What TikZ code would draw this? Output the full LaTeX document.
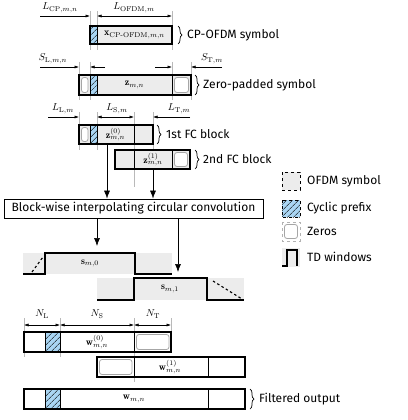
\documentclass[tikz,border=0pt]{standalone}
\usepackage{amsmath,amssymb}
\usepackage{fontspec}
\usepackage{xcolor}
\usetikzlibrary{arrows.meta,patterns.meta,decorations.pathreplacing}
\newfontfamily\dinfont{Fira Sans}
\definecolor{cpblue}{HTML}{A9D5F3}

\begin{document}
\begin{tikzpicture}[x=1pt,y=-1pt]
	\tikzstyle{blk}=[draw=black, line width=1.1pt]
	\tikzstyle{sym}=[fill=gray!15]
	\tikzstyle{cp}=[fill=cpblue, postaction={pattern={Lines[angle=45,distance=4pt,line width=0.6pt]}, pattern color=black}]
	\tikzstyle{cpedge}=[draw=black, line width=0.4pt]
	\tikzstyle{zero}=[draw=gray!70, fill=white, line width=0.8pt, rounded corners=2.5pt]
	\tikzstyle{ext}=[draw=gray!55, line width=0.4pt]
	\tikzstyle{dim}=[line width=0.5pt, -{Latex[length=4.5pt,width=3pt]}]
	\tikzstyle{dimboth}=[line width=0.5pt, {Latex[length=4.5pt,width=3pt]}-{Latex[length=4.5pt,width=3pt]}]
	\tikzstyle{flow}=[line width=0.6pt, -{Latex[length=8pt,width=6pt]}]
	\tikzstyle{win}=[line width=1.1pt]
	\tikzstyle{lbl}=[font=\dinfont\fontsize{12}{14}\selectfont, anchor=west, inner sep=0pt]
	\tikzstyle{brc}=[decorate, decoration={brace, amplitude=4pt}, line width=0.7pt]

	\useasboundingbox (0,0) rectangle (407,420);

	% extension lines
	\foreach \x in {90,97,172} \draw[ext] (\x,11) -- (\x,50);
	\foreach \x in {79,90,172,191} \draw[ext] (\x,62) -- (\x,100);
	\foreach \x in {79,97,153} \draw[ext] (\x,112) -- (\x,150);
	\draw[ext] (134,112) -- (134,187);
	\foreach \x in {24,60} \draw[ext] (\x,318) -- (\x,357);
	\draw[ext] (134,318) -- (134,382);
	\draw[ext] (171,318) -- (171,332);

	% CP-OFDM symbol
	\draw[dim] (40,16) -- (90,16);
	\draw[dimboth] (97,16) -- (172,16);
	\draw node at (60,8) (lcp) {$L_{\mathrm{CP},m,n}$};
	\draw node at (134,8) (lofdm) {$L_{\mathrm{OFDM},m}$};
	\fill[sym] (97,26) rectangle (172,44);
	\path[cp] (90,26) rectangle (97,44);
	\draw[cpedge] (90,26) rectangle (97,44);
	\draw[blk] (90,26) rectangle (172,44);
	\draw node at (134.5,35) (x) {$\mathbf{x}_{\mathrm{CP\text{-}OFDM},m,n}$};
	\draw[brc] (178,26) -- (178,44);
	\draw node[lbl] at (187,35) (tcp) {CP-OFDM symbol};

	% zero-padded symbol
	\draw[dim] (40,67) -- (79,67);
	\draw[dim] (105,67) -- (90,67);
	\draw[dim] (155,67) -- (172,67);
	\draw[dim] (222,67) -- (191,67);
	\draw node at (53,59) (sl) {$S_{\mathrm{L},m,n}$};
	\draw node at (212,59) (st) {$S_{\mathrm{T},m}$};
	\fill[sym] (79,75) rectangle (191,95);
	\path[cp] (90,75) rectangle (97,95);
	\draw[cpedge] (90,75) rectangle (97,95);
	\draw (172,75) -- (172,95);
	\draw[zero] (81.5,77.5) rectangle (88,92.5);
	\draw[zero] (174.5,77.5) rectangle (188.5,92.5);
	\draw[blk] (79,75) rectangle (191,95);
	\draw node at (134.5,85) (z) {$\mathbf{z}_{m,n}$};
	\draw[brc] (195,75) -- (195,95);
	\draw node[lbl] at (203,85) (tzp) {Zero-padded symbol};

	% FC blocks
	\draw[dim] (48,117) -- (79,117);
	\draw[dimboth] (97,117) -- (134,117);
	\draw[dim] (190,117) -- (153,117);
	\draw node at (63,109) (ll) {$L_{\mathrm{L},m}$};
	\draw node at (117,109) (ls) {$L_{\mathrm{S},m}$};
	\draw node at (179,109) (lt) {$L_{\mathrm{T},m}$};
	\fill[sym] (79,125) rectangle (153,144);
	\path[cp] (90,125) rectangle (97,144);
	\draw[cpedge] (90,125) rectangle (97,144);
	\draw (134,125) -- (134,144);
	\draw[zero] (81.5,127.5) rectangle (88,141.5);
	\draw[blk] (79,125) rectangle (153,144);
	\draw node at (115.5,134.5) (z0) {$\mathbf{z}^{(0)}_{m,n}$};
	\draw[brc] (157,125) -- (157,144);
	\draw node[lbl] at (166,134.5) (tfc0) {1st FC block};
	\fill[sym] (115,150) rectangle (190,169);
	\draw (134,150) -- (134,169);
	\draw (172,150) -- (172,169);
	\draw[zero] (174.5,152.5) rectangle (187.5,166.5);
	\draw[blk] (115,150) rectangle (190,169);
	\draw node at (153,159.5) (z1) {$\mathbf{z}^{(1)}_{m,n}$};
	\draw[brc] (195,150) -- (195,169);
	\draw node[lbl] at (203,159.5) (tfc1) {2nd FC block};

	% convolution
	\coordinate (a0) at (107,144);
	\coordinate (a1) at (153,169);
	\draw node[draw, line width=0.8pt, minimum width=259pt, minimum height=19pt, inner sep=0pt, font=\dinfont\fontsize{12}{14}\selectfont] at (133.5,208.5) (conv) {Block-wise interpolating circular convolution};
	\draw[flow] (a0) -- (a0 |- conv.north);
	\draw[flow] (a1) -- (a1 |- conv.north);
	\coordinate (b0) at (97,246);
	\coordinate (b1) at (178,272);
	\draw[flow] (conv.south -| b0) -- (b0);
	\draw[flow] (conv.south -| b1) -- (b1);

	% TD windows
	\fill[sym] (23,253) rectangle (172,274);
	\draw[win] (23,274) -- (45,274) -- (45,253) -- (135,253) -- (135,274) -- (172,274);
	\draw[win, dash pattern=on 2.5pt off 2.5pt] (32,272) -- (43,257);
	\draw node at (90,263.5) (s0) {$\mathbf{s}_{m,0}$};
	\fill[sym] (97,278) rectangle (244,300);
	\draw[win] (97,300) -- (134,300) -- (134,278) -- (207,278) -- (207,300) -- (244,300);
	\draw[win, dash pattern=on 2.5pt off 2.5pt] (213,281) -- (242,299);
	\draw node at (170,289) (s1) {$\mathbf{s}_{m,1}$};

	% filtered blocks
	\draw[dimboth] (24,325) -- (60,325);
	\draw[dimboth] (60,325) -- (134,325);
	\draw[dimboth] (134,325) -- (171,325);
	\draw node at (42,314) (nl) {$N_{\mathrm{L}}$};
	\draw node at (97,314) (ns) {$N_{\mathrm{S}}$};
	\draw node at (153,314) (nt) {$N_{\mathrm{T}}$};
	\fill[white] (24,332) rectangle (171,352);
	\path[cp] (45,332) rectangle (60,352);
	\draw[cpedge] (45,332) rectangle (60,352);
	\draw (134,332) -- (134,352);
	\draw[zero] (136.5,334.5) rectangle (169,349.5);
	\draw[blk] (24,332) rectangle (171,352);
	\draw node at (97,342) (w0) {$\mathbf{w}^{(0)}_{m,n}$};
	\fill[white] (97,357) rectangle (245,377);
	\draw[zero] (99.5,359.5) rectangle (132,374.5);
	\draw (134,357) -- (134,377);
	\draw (208,357) -- (208,377);
	\draw[blk] (97,357) rectangle (245,377);
	\draw node at (170,367) (w1) {$\mathbf{w}^{(1)}_{m,n}$};
	\path[cp] (45,389) rectangle (60,409);
	\draw[cpedge] (45,389) rectangle (60,409);
	\draw (208,389) -- (208,409);
	\draw[blk] (24,389) rectangle (245,409);
	\draw node at (134,399) (w) {$\mathbf{w}_{m,n}$};
	\draw[brc] (250,389) -- (250,409);
	\draw node[lbl] at (259,399) (tout) {Filtered output};

	% legend
	\draw[dashed, fill=gray!15, line width=0.5pt] (282,172) rectangle (300,190);
	\draw node[lbl] at (307,181) (kofdm) {OFDM symbol};
	\path[cp] (282,200) rectangle (300,217);
	\draw[dashed, line width=0.5pt] (282,200) rectangle (300,217);
	\draw node[lbl] at (307,208.5) (kcp) {Cyclic prefix};
	\draw[dashed, draw=gray!60, line width=0.6pt] (282,222) rectangle (300,241);
	\draw[zero] (284.5,224.5) rectangle (297.5,238.5);
	\draw node[lbl] at (307,231.5) (kzero) {Zeros};
	\fill[sym] (282,248) rectangle (300,267);
	\draw[win] (282,266) -- (287,266) -- (287,250) -- (297,250) -- (297,266);
	\draw node[lbl] at (307,256.5) (ktd) {TD windows};
\end{tikzpicture}
\end{document}
